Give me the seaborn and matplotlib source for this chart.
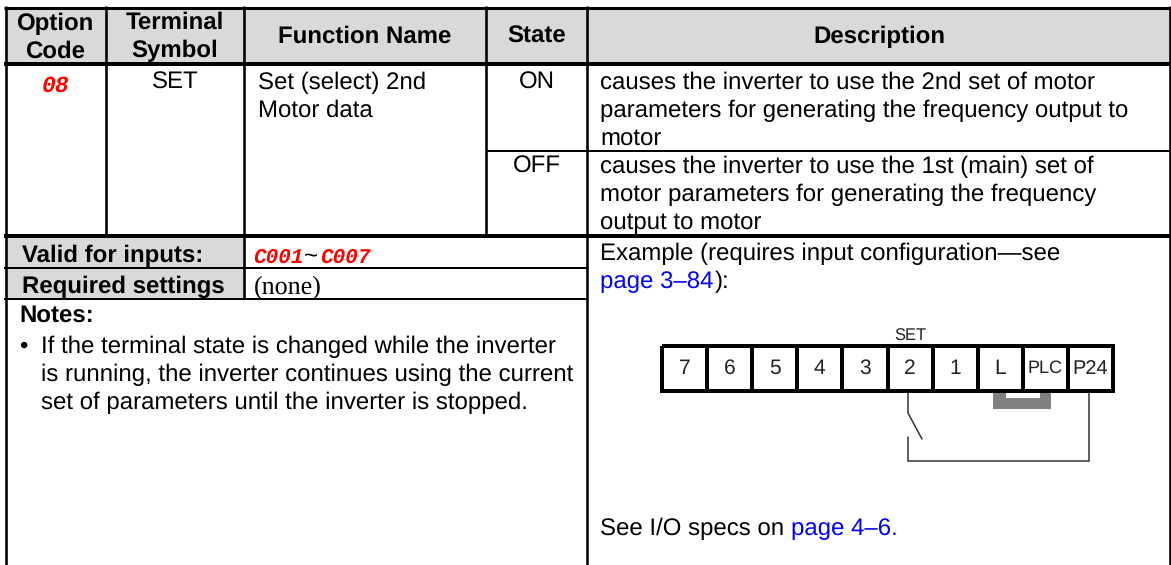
import numpy as np
import matplotlib
matplotlib.use("Agg")
import matplotlib.pyplot as plt
import seaborn as sns

# Table contents
header_labels = ["Option\nCode", "Terminal\nSymbol", "Function Name", "State", "Description"]
option_code = "08"
terminal_symbol = "SET"
function_name = ["Set (select) 2nd", "Motor data"]
state_labels = ["ON", "OFF"]
on_text = ["causes the inverter to use the 2nd set of motor",
           "parameters for generating the frequency output to",
           "motor"]
off_text = ["causes the inverter to use the 1st (main) set of",
            "motor parameters for generating the frequency",
            "output to motor"]
notes_text = ["If the terminal state is changed while the inverter",
              "is running, the inverter continues using the current",
              "set of parameters until the inverter is stopped."]
terminals = ["7", "6", "5", "4", "3", "2", "1", "L", "PLC", "P24"]

W, H = 1171, 565
DPI = 100
GRAY = "#d9d9d9"
SANS = "Liberation Sans"
BODY = 24

sns.set_theme(style="white")
plt.rcParams['text.hinting'] = 'none'
fig = plt.figure(figsize=(W / DPI, H / DPI), dpi=DPI, facecolor="white")

# Whole figure is one axes in pixel units, y going down
ax = fig.add_axes([0, 0, 1, 1])
ax.set_xlim(0, W)
ax.set_ylim(H, 0)
ax.axis("off")


def txt(x, y, s, size=BODY, weight="normal", ha="left", color="black", family=SANS, **kw):
    # size is in pixels, y is the baseline
    return ax.text(x, y, s, fontsize=size * 72 / DPI, fontweight=weight, ha=ha, va="baseline",
                   color=color, family=family, **kw)


def chain(x, y, parts, gap=0):
    # runs of differently coloured text on one line
    rend = fig.canvas.get_renderer()
    for s, c in parts:
        t = txt(x, y, s, color=c)
        x = x + t.get_window_extent(rend).width + gap


def hline(y, x0, x1, px=2):
    ax.plot([x0, x1], [y, y], color="black", lw=px * 72 / DPI, solid_capstyle="butt")


def vline(x, y0, y1, px=2.6):
    ax.plot([x, x], [y0, y1], color="black", lw=px * 72 / DPI, solid_capstyle="butt")


# Gray header and side labels
ax.fill_between([5, 1170], 7, 63, color=GRAY, lw=0)
ax.fill_between([5, 244], 236, 299, color=GRAY, lw=0)

# Rules
hline(7.5, 4, 1171, 3)
hline(63.5, 4, 1171, 4)
hline(151, 486, 1171, 2)
hline(236, 4, 1171, 4)
hline(268, 4, 587, 2)
hline(299, 4, 587, 2)
vline(5.5, 6, H)
vline(106, 6, 236)
vline(244, 6, 299)
vline(486, 6, 236)
vline(587, 6, H)
vline(1169.5, 6, H)

# Header
txt(55, 30, "Option", BODY, "bold", "center")
txt(55, 57.5, "Code", BODY, "bold", "center")
txt(175, 29, "Terminal", BODY, "bold", "center")
txt(175, 57.5, "Symbol", BODY, "bold", "center")
txt(365, 43, header_labels[2], BODY, "bold", "center")
txt(537, 43, header_labels[3], BODY, "bold", "center")
txt(879, 43, header_labels[4], BODY, "bold", "center")

# Body
txt(55.5, 92, option_code, 23, "bold", "center", "#ff0000", "Liberation Mono", style="italic")
txt(175, 89, terminal_symbol, ha="center")
txt(258, 89, function_name[0])
txt(258, 117, function_name[1])
txt(537, 89, state_labels[0], ha="center")
txt(537, 173, state_labels[1], ha="center")
for i, s in enumerate(on_text):
    txt(600, 89 + 28 * i, s)
for i, s in enumerate(off_text):
    txt(600, 173 + 28 * i, s)

# Lower left
txt(22, 262, "Valid for inputs:", BODY, "bold")
txt(22, 293, "Required settings", BODY, "bold")
txt(253, 263, "C001", 21, "bold", color="#ff0000", family="Liberation Mono", style="italic")
txt(304, 262, "~")
txt(320, 263, "C007", 21, "bold", color="#ff0000", family="Liberation Mono", style="italic")
txt(254, 293, "(none)", 26, family="Liberation Serif")
txt(19, 322, "Notes:", BODY, "bold")
txt(19, 353, "•")
for i, s in enumerate(notes_text):
    txt(41, 353 + 28 * i, s)

# Lower right
txt(600, 260, "Example (requires input configuration—see")
chain(600, 288, [("page 3–84", "#0000ff"), ("):", "black")], gap=1)
chain(600, 535, [("See I/O specs on", "black"), ("page 4–6.", "#0000ff")], gap=7)

# Terminal strip drawn as a one row heatmap
ax_strip = fig.add_axes([662 / W, 1 - 391 / H, 451 / W, 45 / H])
sns.heatmap(np.zeros((1, len(terminals))), ax=ax_strip, cmap=["white"], cbar=False,
            annot=np.array([terminals]), fmt="", linewidths=3.6 * 72 / DPI, linecolor="black",
            xticklabels=False, yticklabels=False,
            annot_kws={"fontsize": 21 * 72 / DPI, "family": SANS, "color": "#222222"})
ax_strip.collections[0].set_clip_on(False)
ax_strip.patch.set_alpha(0)
for t in ax_strip.texts:
    if t.get_text() == "PLC":
        t.set_fontsize(18 * 72 / DPI)
    if t.get_text() == "P24":
        t.set_fontsize(20 * 72 / DPI)

txt(910, 341, "SET", 16.5, ha="center", color="#222222")

# Jumper between L and PLC
ax.fill([993, 993, 1051, 1051, 1040, 1040, 1005.5, 1005.5],
        [393, 409, 409, 393, 393, 398, 398, 393], color="#808080", lw=0)

# Switch wiring
wire = dict(color="#333333", lw=1.1, solid_joinstyle="miter")
ax.plot([908, 908, 922], [393, 413, 439], **wire)
ax.plot([908, 908, 1089, 1089], [437, 461, 461, 393], **wire)

fig.savefig("out.png", dpi=DPI)
